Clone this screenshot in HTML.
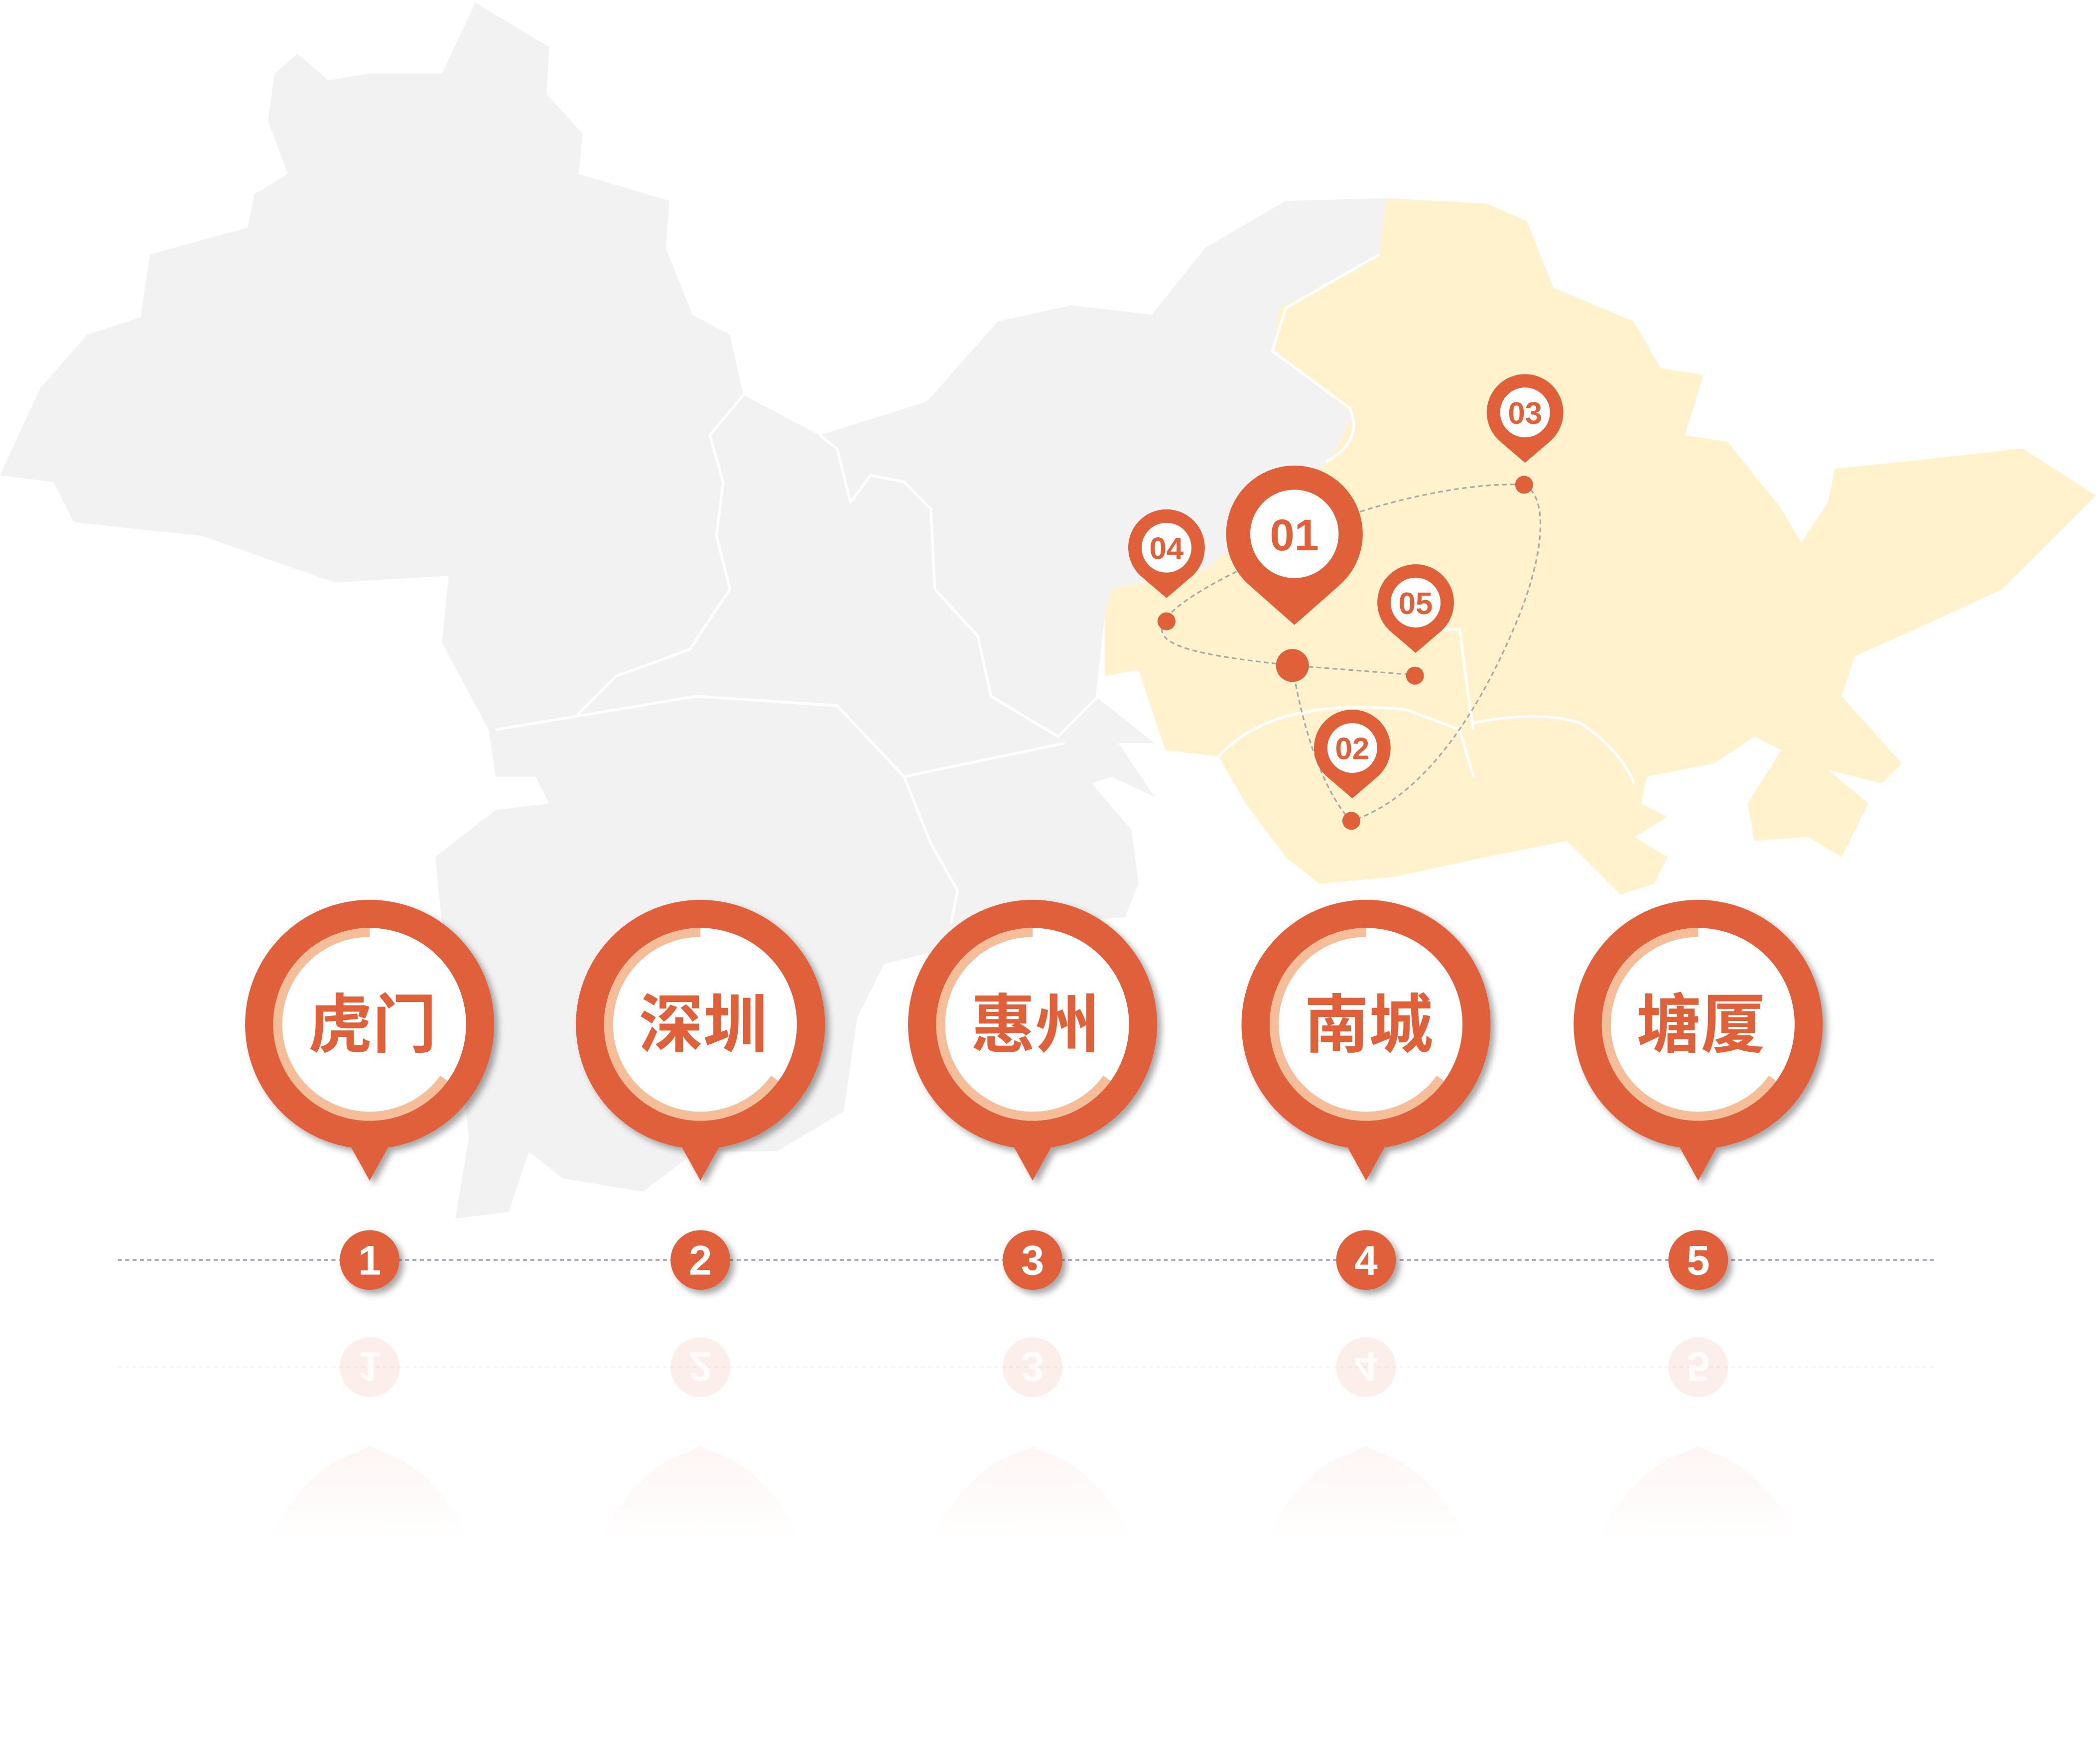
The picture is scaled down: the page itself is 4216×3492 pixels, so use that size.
<!DOCTYPE html>
<html><head><meta charset="utf-8"><style>
html,body{margin:0;padding:0;background:#fff;}
svg{display:block;}
text{font-family:"Liberation Sans","Noto Sans CJK SC",sans-serif;font-weight:bold;}
</style></head><body>
<svg width="4216" height="3492" viewBox="0 0 1568 1298.7" xmlns="http://www.w3.org/2000/svg">
<defs>
<filter id="sh" x="-30%" y="-30%" width="160%" height="160%"><feDropShadow dx="3" dy="3" stdDeviation="2.5" flood-color="#000" flood-opacity="0.35"/></filter>
<linearGradient id="rf" x1="0" y1="0" x2="0" y2="1"><stop offset="0" stop-color="#E0603A" stop-opacity="0.06"/><stop offset="1" stop-color="#E0603A" stop-opacity="0"/></linearGradient>
</defs>
<path fill="#F2F2F2" d="M355,2 L410,35 L408,70 L435,100 L432,130 L500,150 L497,185 L517,235 L545,250 L555,295 L612,325 L692,300 L745,240 L800,228 L860,235 L900,185 L960,150 L1035,148 L1030,190 L960,230 L950,260 L1010,310 L995,340 L945,390 L900,425 L830,440 L825,460 L818,520 L862,555 L835,555 L862,595 L830,580 L815,585 L845,620 L850,660 L840,685 L760,690 L700,710 L660,720 L640,760 L630,830 L580,860 L520,860 L480,890 L420,880 L395,860 L380,905 L340,910 L350,850 L345,800 L330,690 L325,640 L370,605 L410,600 L400,580 L370,580 L365,545 L330,480 L335,430 L250,435 L150,400 L55,390 L40,360 L0,355 L30,290 L65,250 L105,237 L112,190 L185,170 L190,145 L215,130 L200,90 L205,55 L222,40 L245,60 L275,55 L330,55 Z"/>
<g fill="none" stroke="#fff" stroke-width="2">
<path d="M555,295 L530,325 L540,360 L535,400 L545,440 L515,485 L460,505 L430,535 L370,545"/>
<path d="M612,325 L625,335 L635,375 L650,355 L675,360 L695,380 L698,440 L730,475 L740,520 L790,550 L820,520"/>
<path d="M430,535 L520,520 L625,527 L675,580 L795,555"/>
<path d="M675,580 L695,630 L715,665 L710,690"/>
</g>
<path fill="#FFF2CC" d="M1035,148 L1110,152 L1140,165 L1160,215 L1220,240 L1240,275 L1272,280 L1258,325 L1290,330 L1330,380 L1345,405 L1365,375 L1370,350 L1420,345 L1510,335 L1565,370 L1495,440 L1430,470 L1385,490 L1375,520 L1420,570 L1405,585 L1365,575 L1395,600 L1375,640 L1350,625 L1310,628 L1305,600 L1330,560 L1310,550 L1280,570 L1230,580 L1225,600 L1245,610 L1220,625 L1245,640 L1235,660 L1210,668 L1170,628 L1110,640 L1040,655 L985,660 L960,640 L930,600 L910,565 L870,560 L860,530 L850,500 L825,505 L825,460 L830,440 L900,425 L945,390 L995,340 L1010,310 L950,260 L955,230 L1030,190 Z"/>
<g fill="none" stroke="#fff" stroke-width="2">
<path d="M1030,190 L960,230 L950,262 L1008,305 Q1018,330 990,345"/>
<path d="M910,565 Q950,520 1050,530 L1090,545 L1100,580"/>
<path d="M1100,545 L1095,510 L1090,470 L1060,470"/>
<path d="M1100,540 Q1150,530 1180,540 Q1210,560 1220,585"/>
</g>
<g fill="none" stroke="#A8A8A8" stroke-width="1.2" stroke-dasharray="3.5 2.5">
<path d="M993,390 C1040,372 1100,360 1138,362"/>
<path d="M1138,362 C1158,372 1152,420 1130,470 C1100,540 1060,595 1012,612"/>
<path d="M1009,613 C995,600 975,560 965,497"/>
<path d="M965,497 L1056,504"/>
<path d="M965,497 C920,492 880,487 870,476 C860,465 880,448 929,424"/>
</g>
<g fill="#E0603A">
<circle cx="965" cy="497" r="12.3"/>
<circle cx="871" cy="464" r="6.7"/>
<circle cx="1138" cy="362" r="6.7"/>
<circle cx="1056.5" cy="504.6" r="6.7"/>
<circle cx="1009" cy="613" r="6.7"/>
<path d="M966.5,466.7 L1000.2,437 A51,51 0 1 0 932.8,437 Z"/>
<path d="M871,446.6 L889.6,430.7 A28.6,28.6 0 1 0 852.4,430.7 Z"/>
<path d="M1138.7,345.6 L1157.3,329.7 A28.6,28.6 0 1 0 1120.1,329.7 Z"/>
<path d="M1057,487.6 L1075.6,471.7 A28.6,28.6 0 1 0 1038.4,471.7 Z"/>
<path d="M1009.7,596.2 L1028.3,580.3 A28.6,28.6 0 1 0 991.1,580.3 Z"/>
</g>
<g fill="#fff">
<circle cx="966.5" cy="398.7" r="33"/>
<circle cx="871" cy="409" r="18.6"/>
<circle cx="1138.7" cy="308" r="18.6"/>
<circle cx="1057" cy="450" r="18.6"/>
<circle cx="1009.7" cy="558.6" r="18.6"/>
</g>
<g fill="#E0603A" text-anchor="middle">
<text x="966.5" y="411" font-size="33">01</text>
<text x="871" y="417.5" font-size="23">04</text>
<text x="1138.7" y="316.5" font-size="23">03</text>
<text x="1057" y="458.5" font-size="23">05</text>
<text x="1009.7" y="567" font-size="23">02</text>
</g>
<line x1="88" y1="941" x2="1446" y2="941" stroke="#7A86B8" stroke-width="1" stroke-dasharray="3 2.5"/>
<line x1="88" y1="1021" x2="1446" y2="1021" stroke="#7A86B8" stroke-opacity="0.1" stroke-width="1" stroke-dasharray="3 2.5"/>
<g transform="translate(276,0)">
<g filter="url(#sh)"><circle cx="0" cy="765" r="93" fill="#E0603A"/><path d="M-16.5,852 L16.5,852 L0,881.7 Z" fill="#E0603A"/></g>
<circle cx="0" cy="765" r="72" fill="#fff"/>
<path d="M0,696.4 A68.6,68.6 0 1 0 55.5,805.3" fill="none" stroke="#F5BE98" stroke-width="6.7"/>
<circle cx="0" cy="941" r="22.3" fill="#E0603A" filter="url(#sh)"/>
<text x="0" y="952" font-size="31" fill="#fff" text-anchor="middle">1</text>
<text x="2" y="782" font-size="48" fill="#E0603A" text-anchor="middle">虎门</text>
</g>
<g transform="translate(523,0)">
<g filter="url(#sh)"><circle cx="0" cy="765" r="93" fill="#E0603A"/><path d="M-16.5,852 L16.5,852 L0,881.7 Z" fill="#E0603A"/></g>
<circle cx="0" cy="765" r="72" fill="#fff"/>
<path d="M0,696.4 A68.6,68.6 0 1 0 55.5,805.3" fill="none" stroke="#F5BE98" stroke-width="6.7"/>
<circle cx="0" cy="941" r="22.3" fill="#E0603A" filter="url(#sh)"/>
<text x="0" y="952" font-size="31" fill="#fff" text-anchor="middle">2</text>
<text x="2" y="782" font-size="48" fill="#E0603A" text-anchor="middle">深圳</text>
</g>
<g transform="translate(771,0)">
<g filter="url(#sh)"><circle cx="0" cy="765" r="93" fill="#E0603A"/><path d="M-16.5,852 L16.5,852 L0,881.7 Z" fill="#E0603A"/></g>
<circle cx="0" cy="765" r="72" fill="#fff"/>
<path d="M0,696.4 A68.6,68.6 0 1 0 55.5,805.3" fill="none" stroke="#F5BE98" stroke-width="6.7"/>
<circle cx="0" cy="941" r="22.3" fill="#E0603A" filter="url(#sh)"/>
<text x="0" y="952" font-size="31" fill="#fff" text-anchor="middle">3</text>
<text x="2" y="782" font-size="48" fill="#E0603A" text-anchor="middle">惠州</text>
</g>
<g transform="translate(1020,0)">
<g filter="url(#sh)"><circle cx="0" cy="765" r="93" fill="#E0603A"/><path d="M-16.5,852 L16.5,852 L0,881.7 Z" fill="#E0603A"/></g>
<circle cx="0" cy="765" r="72" fill="#fff"/>
<path d="M0,696.4 A68.6,68.6 0 1 0 55.5,805.3" fill="none" stroke="#F5BE98" stroke-width="6.7"/>
<circle cx="0" cy="941" r="22.3" fill="#E0603A" filter="url(#sh)"/>
<text x="0" y="952" font-size="31" fill="#fff" text-anchor="middle">4</text>
<text x="2" y="782" font-size="48" fill="#E0603A" text-anchor="middle">南城</text>
</g>
<g transform="translate(1268,0)">
<g filter="url(#sh)"><circle cx="0" cy="765" r="93" fill="#E0603A"/><path d="M-16.5,852 L16.5,852 L0,881.7 Z" fill="#E0603A"/></g>
<circle cx="0" cy="765" r="72" fill="#fff"/>
<path d="M0,696.4 A68.6,68.6 0 1 0 55.5,805.3" fill="none" stroke="#F5BE98" stroke-width="6.7"/>
<circle cx="0" cy="941" r="22.3" fill="#E0603A" filter="url(#sh)"/>
<text x="0" y="952" font-size="31" fill="#fff" text-anchor="middle">5</text>
<text x="2" y="782" font-size="48" fill="#E0603A" text-anchor="middle">塘厦</text>
</g>
<g opacity="0.1" fill="#E0603A">
<circle cx="276" cy="1021" r="22.3"/><circle cx="523" cy="1021" r="22.3"/><circle cx="771" cy="1021" r="22.3"/><circle cx="1020" cy="1021" r="22.3"/><circle cx="1268" cy="1021" r="22.3"/>
</g>
<g fill="#fff" opacity="0.8" font-size="31" text-anchor="middle">
<text transform="translate(276,1021) scale(1,-1)" x="0" y="11">1</text>
<text transform="translate(523,1021) scale(1,-1)" x="0" y="11">2</text>
<text transform="translate(771,1021) scale(1,-1)" x="0" y="11">3</text>
<text transform="translate(1020,1021) scale(1,-1)" x="0" y="11">4</text>
<text transform="translate(1268,1021) scale(1,-1)" x="0" y="11">5</text>
</g>
<g fill="url(#rf)">
<path d="M200,1150 Q230,1095 266,1085 L276,1080 L286,1085 Q322,1095 352,1150 Z"/>
<path d="M447,1150 Q477,1095 513,1085 L523,1080 L533,1085 Q569,1095 599,1150 Z"/>
<path d="M695,1150 Q725,1095 761,1085 L771,1080 L781,1085 Q817,1095 847,1150 Z"/>
<path d="M944,1150 Q974,1095 1010,1085 L1020,1080 L1030,1085 Q1066,1095 1096,1150 Z"/>
<path d="M1192,1150 Q1222,1095 1258,1085 L1268,1080 L1278,1085 Q1314,1095 1344,1150 Z"/>
</g>
</svg>
</body></html>
